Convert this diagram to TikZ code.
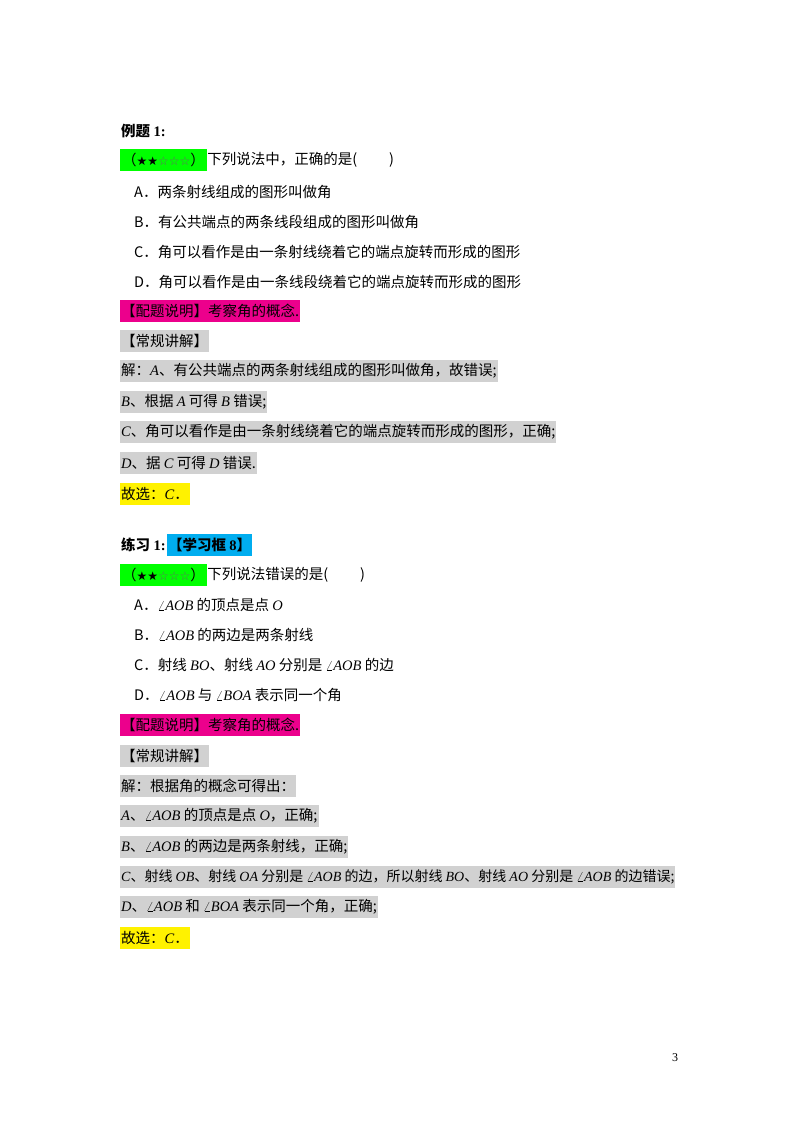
\documentclass[tikz,border=0pt]{standalone}
\usepackage{fontspec}
\setmainfont{Noto Sans CJK SC}
\newfontfamily\tms{Liberation Serif}
\newfontfamily\djsans{DejaVu Sans}
\newcommand{\vr}[1]{{\tms\itshape #1}}
\newcommand{\ang}[1]{{\tms$\angle$\itshape #1}}
\newcommand{\stars}{{\djsans\fontsize{12}{14}\selectfont ★★\textcolor{black!60}{☆☆☆}}}
\begin{document}
\begin{tikzpicture}[x=1pt,y=-1pt,
  t/.style={anchor=west,inner xsep=1pt,inner ysep=0pt,minimum height=22pt,font=\fontsize{14.5}{16}\selectfont},
  hg/.style={t,fill=black!18},
  hm/.style={t,fill=magenta},
  hy/.style={t,fill=yellow}]
\useasboundingbox (0,0) rectangle (800,1132);
\node[t,font=\fontsize{14.5}{16}\selectfont\bfseries] (h1) at (120,131) {例题 {\tms\bfseries 1:}};
\node[t,fill=green,inner xsep=2pt] (s1) at (120,160) {（\stars）};
\node[t,anchor=west,inner xsep=0pt] (q1) at (s1.east) {下列说法中，正确的是(\hspace{2.2em})};
\node[t] (a1) at (133,192) {A．两条射线组成的图形叫做角};
\node[t] (b1) at (133,222) {B．有公共端点的两条线段组成的图形叫做角};
\node[t] (c1) at (133,252) {C．角可以看作是由一条射线绕着它的端点旋转而形成的图形};
\node[t] (d1) at (133,282) {D．角可以看作是由一条线段绕着它的端点旋转而形成的图形};
\node[hm] (p1) at (120,311) {【配题说明】考察角的概念.};
\node[hg] (e1) at (120,341) {【常规讲解】};
\node[hg] (j1) at (120,371) {解：\vr{A}、有公共端点的两条射线组成的图形叫做角，故错误;};
\node[hg] (j2) at (120,402) {\vr{B}、根据 \vr{A} 可得 \vr{B} 错误;};
\node[hg] (j3) at (120,432) {\vr{C}、角可以看作是由一条射线绕着它的端点旋转而形成的图形，正确;};
\node[hg] (j4) at (120,463) {\vr{D}、据 \vr{C} 可得 \vr{D} 错误.};
\node[hy] (k1) at (120,494) {故选：\vr{C}．};
\node[t,font=\fontsize{14.5}{16}\selectfont\bfseries] (h2) at (120,545) {练习 {\tms\bfseries 1:}};
\node[t,fill=cyan,anchor=west,font=\fontsize{14.5}{16}\selectfont\bfseries] (lk) at (h2.east) {【学习框 {\tms\bfseries 8}】};
\node[t,fill=green,inner xsep=2pt] (s2) at (120,575) {（\stars）};
\node[t,anchor=west,inner xsep=0pt] (q2) at (s2.east) {下列说法错误的是(\hspace{2.2em})};
\node[t] (a2) at (133,605) {A．\ang{AOB} 的顶点是点 \vr{O}};
\node[t] (b2) at (133,635) {B．\ang{AOB} 的两边是两条射线};
\node[t] (c2) at (133,665) {C．射线 \vr{BO}、射线 \vr{AO} 分别是 \ang{AOB} 的边};
\node[t] (d2) at (133,695) {D．\ang{AOB} 与 \ang{BOA} 表示同一个角};
\node[hm] (p2) at (120,725) {【配题说明】考察角的概念.};
\node[hg] (e2) at (120,756) {【常规讲解】};
\node[hg] (l1) at (120,786) {解：根据角的概念可得出：};
\node[hg] (l2) at (120,816) {\vr{A}、\ang{AOB} 的顶点是点 \vr{O}，正确;};
\node[hg] (l3) at (120,847) {\vr{B}、\ang{AOB} 的两边是两条射线，正确;};
\node[hg,font=\fontsize{14}{16}\selectfont] (l4) at (120,877) {\vr{C}、射线 \vr{OB}、射线 \vr{OA} 分别是 \ang{AOB} 的边，所以射线 \vr{BO}、射线 \vr{AO} 分别是 \ang{AOB} 的边错误;};
\node[hg] (l5) at (120,907) {\vr{D}、\ang{AOB} 和 \ang{BOA} 表示同一个角，正确;};
\node[hy] (k2) at (120,938) {故选：\vr{C}．};
\node[font=\tms\fontsize{12}{14}\selectfont] (pg) at (675,1058) {3};
\end{tikzpicture}
\end{document}
